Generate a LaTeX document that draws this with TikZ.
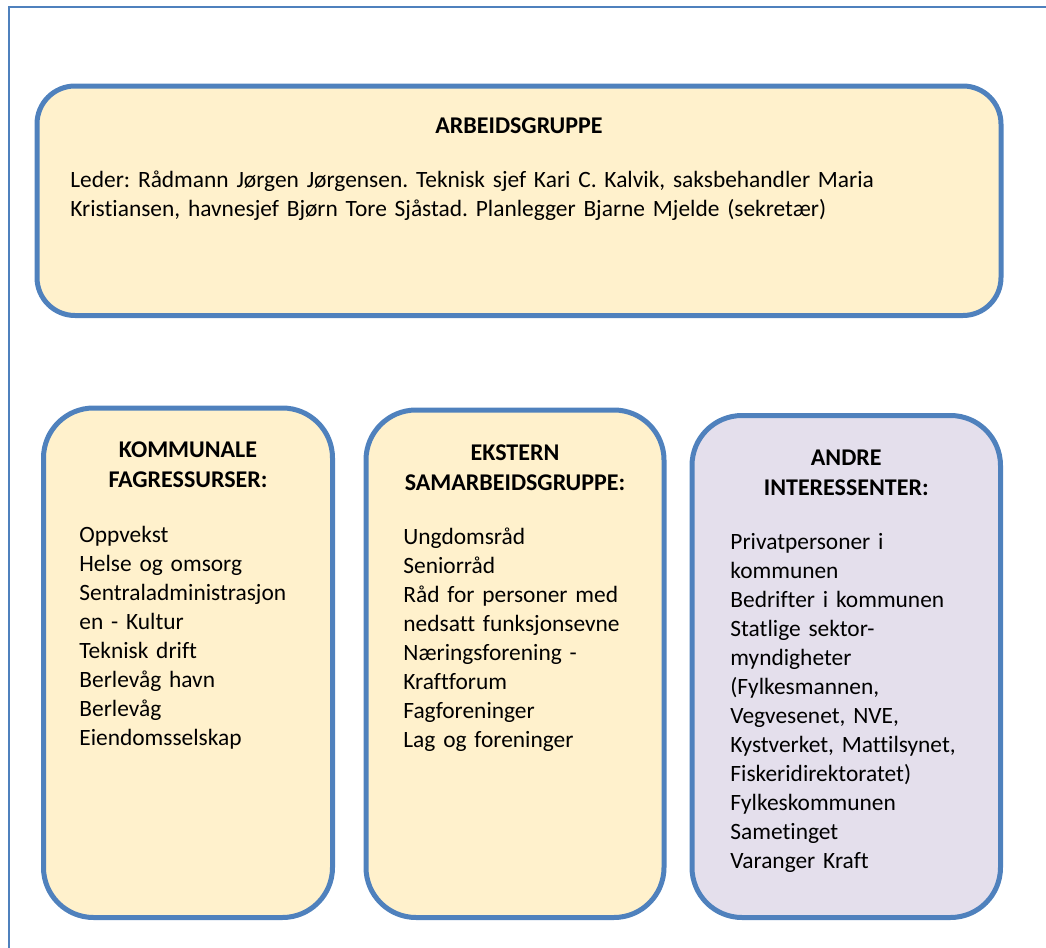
\documentclass[tikz,border=0pt]{standalone}
\usepackage{fontspec}
\setmainfont{Carlito}[Ligatures=NoCommon]
\usepackage{tikz}
\usetikzlibrary{calc}
\usetikzlibrary{positioning}
\frenchspacing
\definecolor{frameblue}{RGB}{79,129,189}
\definecolor{paleyellow}{RGB}{255,241,204}
\definecolor{palelilac}{RGB}{228,223,236}
\tikzstyle{panel} = [rectangle, draw=frameblue, line width=2.5pt, fill=paleyellow, rounded corners=25pt]
\tikzstyle{heading} = [font={\fontsize{12}{15}\selectfont\bfseries}, align=center, inner sep=0pt, anchor=base]
\tikzstyle{items} = [font={\fontsize{11.7}{14.5}\selectfont}, align=left, inner sep=0pt, anchor=base west]

\begin{document}
\begin{tikzpicture}[x=0.5pt,y=-0.5pt]

	\useasboundingbox (0,0) rectangle (1046,948);
	\draw [frameblue, line width=1pt] (8.5,948) |- (1046,6.5);

	% the working group across the top
	\node[panel, minimum width=482pt, minimum height=114.75pt, rounded corners=19pt] (arbeid) at (519,200.75) {};
	\node[heading, text width=400pt] (arbeidhead) at (519,133) {ARBEIDSGRUPPE};
	\node[items, text width=470pt] (arbeidtext) at (70,187)
		{Leder: Rådmann Jørgen Jørgensen. Teknisk sjef Kari C. Kalvik, saksbehandler Maria\\
		Kristiansen, havnesjef Bjørn Tore Sjåstad. Planlegger Bjarne Mjelde (sekretær)};

	% three groups below
	\node[panel, minimum width=144.5pt, minimum height=254.75pt] (kommunal) at (188,662.75) {};
	\node[panel, minimum width=149pt, minimum height=253.75pt] (ekstern) at (515,663.75) {};
	\node[panel, fill=palelilac, minimum width=154.25pt, minimum height=251pt] (andre) at (846.25,666.5) {};

	\node[heading, text width=140pt] (kommunalhead) at (188,457) {KOMMUNALE\\FAGRESSURSER:};
	\node[heading, text width=140pt] (eksternhead) at (515,460) {EKSTERN\\SAMARBEIDSGRUPPE:};
	\node[heading, text width=140pt] (andrehead) at (846.25,465) {ANDRE\\INTERESSENTER:};

	\node[items, text width=130pt] (kommunallist) at (79,542)
		{Oppvekst\\Helse og omsorg\\Sentraladministrasjon\\en - Kultur\\Teknisk drift\\Berlevåg havn\\Berlevåg\\Eiendomsselskap};
	\node[items, text width=130pt] (eksternlist) at (403,544)
		{Ungdomsråd\\Seniorråd\\Råd for personer med\\nedsatt funksjonsevne\\Næringsforening -\\Kraftforum\\Fagforeninger\\Lag og foreninger};
	\node[items, text width=130pt] (andrelist) at (730,549)
		{Privatpersoner i\\kommunen\\Bedrifter i kommunen\\Statlige sektor-\\myndigheter\\(Fylkesmannen,\\Vegvesenet, NVE,\\Kystverket, Mattilsynet,\\Fiskeridirektoratet)\\Fylkeskommunen\\Sametinget\\Varanger Kraft};

\end{tikzpicture}
\end{document}
